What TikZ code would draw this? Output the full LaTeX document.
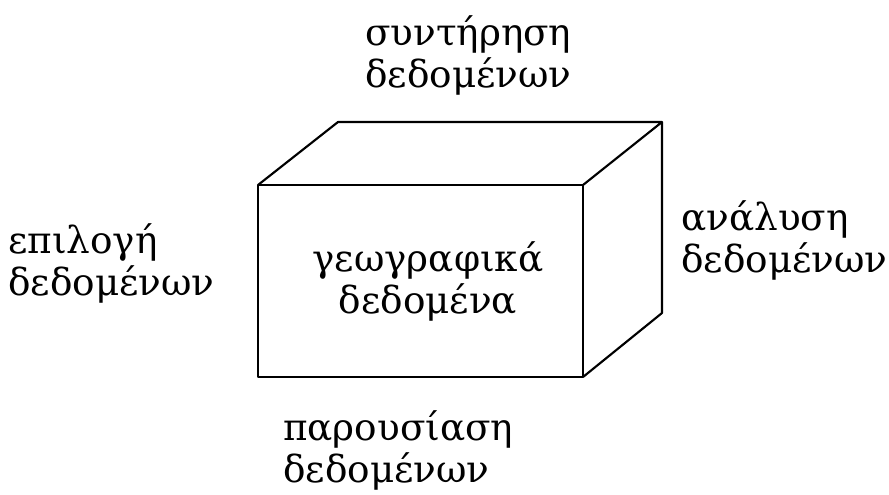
\documentclass[tikz,border=0pt]{standalone}
\usepackage{fontspec}
\setmainfont{DejaVu Serif}
\usepackage{tikz}
\usetikzlibrary{positioning}

\begin{document}
\begin{tikzpicture}[
  x=0.75pt,y=-0.75pt,
  edge/.style={line width=1.6pt,line join=round},
  lbl/.style={inner sep=0pt,align=left,anchor=base west,font=\fontsize{28}{31}\selectfont},
]
\useasboundingbox (0,0) rectangle (889,494);
% corners of the box
\coordinate (ftl) at (258,185);
\coordinate (ftr) at (583,185);
\coordinate (fbr) at (583,377);
\coordinate (fbl) at (258,377);
\coordinate (btl) at (338,122);
\coordinate (btr) at (662,122);
\coordinate (bbr) at (662,313);
\draw[edge] (ftl) rectangle (fbr);
\draw[edge] (ftl) -- (btl) -- (btr) -- (ftr);
\draw[edge] (btr) -- (bbr) -- (fbr);
\node[lbl,align=center,anchor=base] (geo) at (428,313) {γεωγραφικά\\δεδομένα};
\node[lbl] (maint) at (365,87) {συντήρηση\\δεδομένων};
\node[lbl] (select) at (8,295) {επιλογή\\δεδομένων};
\node[lbl] (anal) at (681,272) {ανάλυση\\δεδομένων};
\node[lbl] (pres) at (283,482) {παρουσίαση\\δεδομένων};
\end{tikzpicture}
\end{document}
